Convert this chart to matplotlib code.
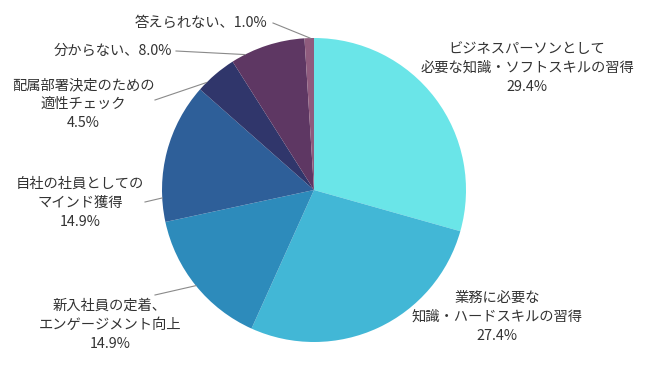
import numpy as np
import matplotlib.pyplot as plt

plt.rcParams['font.family'] = ['Noto Sans CJK JP', 'DejaVu Sans']

# データ
labels = ['ビジネスパーソンとして\n必要な知識・ソフトスキルの習得',
          '業務に必要な\n知識・ハードスキルの習得',
          '新入社員の定着、\nエンゲージメント向上',
          '自社の社員としての\nマインド獲得',
          '配属部署決定のための\n適性チェック',
          '分からない',
          '答えられない']
values = [29.4, 27.4, 14.9, 14.9, 4.5, 8.0, 1.0]
colors = ['#6ae5e8', '#42b7d6', '#2d8bbb', '#2e5f99', '#30366b', '#5e3763', '#8f5b7d']

W, H = 650, 380
CX, CY, R = 314, 190, 152

fig = plt.figure(figsize=(W / 100, H / 100), dpi=100)
ax = fig.add_axes([(CX - R) / W, (H - CY - R) / H, 2 * R / W, 2 * R / H])
ax.pie(values, colors=colors, startangle=90, counterclock=False, radius=1,
       wedgeprops=dict(linewidth=0))
ax.set_xlim(-1, 1)
ax.set_ylim(-1, 1)
ax.axis('off')


def px(x, y):
    # 画像のピクセル座標 -> データ座標
    return (x - CX) / R, (CY - y) / R


# ラベル位置 (中心x, 中心y, 揃え)  ／ 引き出し線 (外側の点, 円周上の角度)
label_pos = [(527, 68, 'center'), (497, 317, 'center'), (110, 325, 'center'),
             (80, 203, 'center'), (83, 104, 'center'), (172, 51, 'right'),
             (267, 23, 'right')]
leaders = [None, None, ((155, 295), 219), ((145, 202), 183),
           ((155, 100), 135), ((176, 51), 117), ((273, 23), 91.5)]

for i, (lab, v) in enumerate(zip(labels, values)):
    x, y, ha = label_pos[i]
    if ha == 'right':
        txt = f'{lab}、{v:.1f}%'
    else:
        txt = f'{lab}\n{v:.1f}%'
    tx, ty = px(x, y)
    ax.text(tx, ty, txt, ha=ha, va='center', multialignment='center',
            fontsize=10.3, color='#333333', linespacing=1.45, clip_on=False)
    if leaders[i] is not None:
        (lx, ly), ang = leaders[i]
        a = np.deg2rad(ang)
        x0, y0 = px(lx, ly)
        ax.plot([x0, np.cos(a)], [y0, np.sin(a)], color='#8a8a8a', lw=0.8,
                clip_on=False)

fig.savefig('out.png', dpi=100)
